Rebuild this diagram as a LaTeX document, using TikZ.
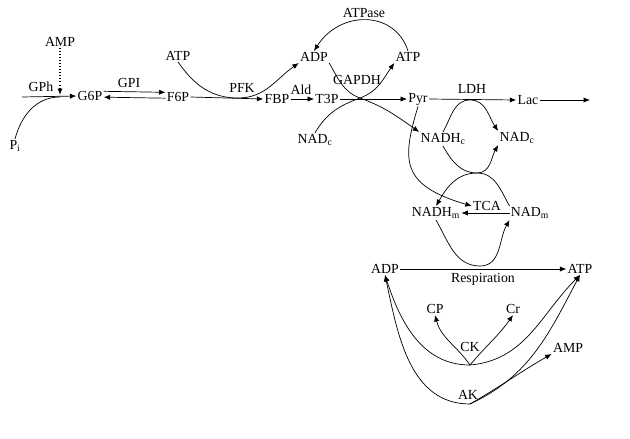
\documentclass[tikz,border=0pt]{standalone}
\usepackage{fontspec}
\setmainfont{Liberation Serif}
\usepackage{tikz}
\usetikzlibrary{arrows.meta}

\begin{document}
\begin{tikzpicture}[x=0.03cm,y=-0.03cm,
    met/.style={inner sep=1pt,font=\fontsize{11.8}{13}\selectfont},
    arrow/.style={-{Latex[length=5.5pt,width=4.5pt]},line width=0.6pt},
    link/.style={line width=0.6pt}]
    \useasboundingbox (0,0) rectangle (630,439);

    % Glycogen / glycolysis row
    \node[met] (amp1) at (60,42) {AMP};
    \node[met] (pi) at (15,146) {P\textsubscript{i}};
    \node[met] (gph) at (41,87) {GPh};
    \node[met] (g6p) at (90,96) {G6P};
    \node[met] (gpi) at (129,83) {GPI};
    \node[met] (f6p) at (178,97) {F6P};
    \node[met] (atp1) at (178,56) {ATP};
    \node[met] (pfk) at (242,88) {PFK};
    \node[met] (fbp) at (277,99) {FBP};
    \node[met] (ald) at (301,90) {Ald};
    \node[met] (t3p) at (327,99) {T3P};
    \node[met] (adp1) at (314,57) {ADP};
    \node[met] (atp2) at (408,57) {ATP};
    \node[met] (atpase) at (364,13) {ATPase};
    \node[met] (gapdh) at (357,80) {GAPDH};
    \node[met] (nadc1) at (315,140) {NAD\textsubscript{c}};
    \node[met] (pyr) at (418,99) {Pyr};
    \node[met] (ldh) at (472,89) {LDH};
    \node[met] (lac) at (528,100) {Lac};
    \coordinate (out) at (590,100);

    % Cytosol / mitochondria
    \node[met] (nadhc) at (443,139) {NADH\textsubscript{c}};
    \node[met] (nadc2) at (517,138) {NAD\textsubscript{c}};
    \node[met] (nadhm) at (436,213) {NADH\textsubscript{m}};
    \node[met] (tca) at (487,206) {TCA};
    \node[met] (nadm) at (530,213) {NAD\textsubscript{m}};

    % Energy buffers
    \node[met] (adp2) at (385,269) {ADP};
    \node[met] (atp3) at (580,269) {ATP};
    \node[met] (resp) at (483,279) {Respiration};
    \node[met] (cp) at (435,309) {CP};
    \node[met] (cr) at (513,309) {Cr};
    \node[met] (ck) at (470,347) {CK};
    \node[met] (amp2) at (568,348) {AMP};
    \node[met] (ak) at (468,395) {AK};

    % meeting points of the curves
    \coordinate (gphin) at (22,97);
    \coordinate (gphm) at (60,97);
    \coordinate (ampt) at (60,95);
    \coordinate (pfkc) at (238,98);
    \coordinate (gapc) at (360,98);
    \coordinate (ldhc) at (470,100);
    \coordinate (shc) at (477,173);
    \coordinate (rc) at (480,266);
    \coordinate (ckb) at (470,365);
    \coordinate (akb) at (470,404);

    % GPh
    \draw[arrow] (gphin) -- (g6p.west);
    \draw[link] (pi.north) to[out=75,in=180] (gphm);
    \draw[arrow,dotted,line width=1.5pt] (amp1.south) -- (ampt);

    % GPI, PFK, Ald, GAPDH
    \draw[arrow] ([yshift=4pt]g6p.east) -- ([yshift=4pt]f6p.west);
    \draw[arrow] ([yshift=-1pt]f6p.west) -- ([yshift=-1pt]g6p.east);
    \draw[arrow] (f6p.east) -- (fbp.west);
    \draw[arrow] (atp1.south) to[out=-55,in=180] (pfkc) to[out=0,in=-145] (adp1.south west);
    \draw[arrow] (fbp.east) -- (t3p.west);
    \draw[arrow] (t3p.east) -- (pyr.west);
    \draw[arrow] (adp1.south east) to[out=-60,in=160] (gapc) to[out=-20,in=145] (nadhc.north west);
    \draw[arrow] (nadc1.north) to[out=60,in=-160] (gapc) to[out=20,in=-125] (atp2.south west);
    \draw[arrow] (atp2.north) .. controls (395,10) and (340,10) .. (adp1.north);

    % LDH
    \draw[arrow] (pyr.east) -- (lac.west);
    \draw[arrow] (lac.east) -- (out);
    \draw[arrow] (nadhc.north) to[out=60,in=180] (ldhc) to[out=0,in=125] (nadc2.north west);

    % shuttle and TCA
    \draw[arrow] (nadhc.south) to[out=-60,in=180] (shc) to[out=0,in=-120] (nadc2.south west);
    \draw[arrow] (nadm.north west) to[out=120,in=0] (shc) to[out=180,in=60] (nadhm.north);
    \draw[arrow] (pyr.south) .. controls (402,160) and (400,185) .. (tca.west);
    \draw[arrow] (nadm.west) -- (nadhm.east);
    \draw[arrow] (nadhm.south) to[out=-60,in=180] (rc) to[out=0,in=-120] (nadm.south west);

    % Respiration, CK, AK
    \draw[arrow] (adp2.east) -- (atp3.west);
    \draw[arrow] (ckb) to[out=180,in=-72] (adp2.south);
    \draw[arrow] (ckb) to[out=5,in=-135] (atp3.south);
    \draw[arrow] (ckb) to[out=125,in=-75] (cp.south);
    \draw[arrow] (ckb) to[out=50,in=-125] (cr.south);
    \draw[arrow] (akb) to[out=180,in=-78] (adp2.south);
    \draw[arrow] (akb) to[out=25,in=-118] (atp3.south);
    \draw[arrow] (akb) to[out=30,in=-150] (amp2.south west);
\end{tikzpicture}
\end{document}
